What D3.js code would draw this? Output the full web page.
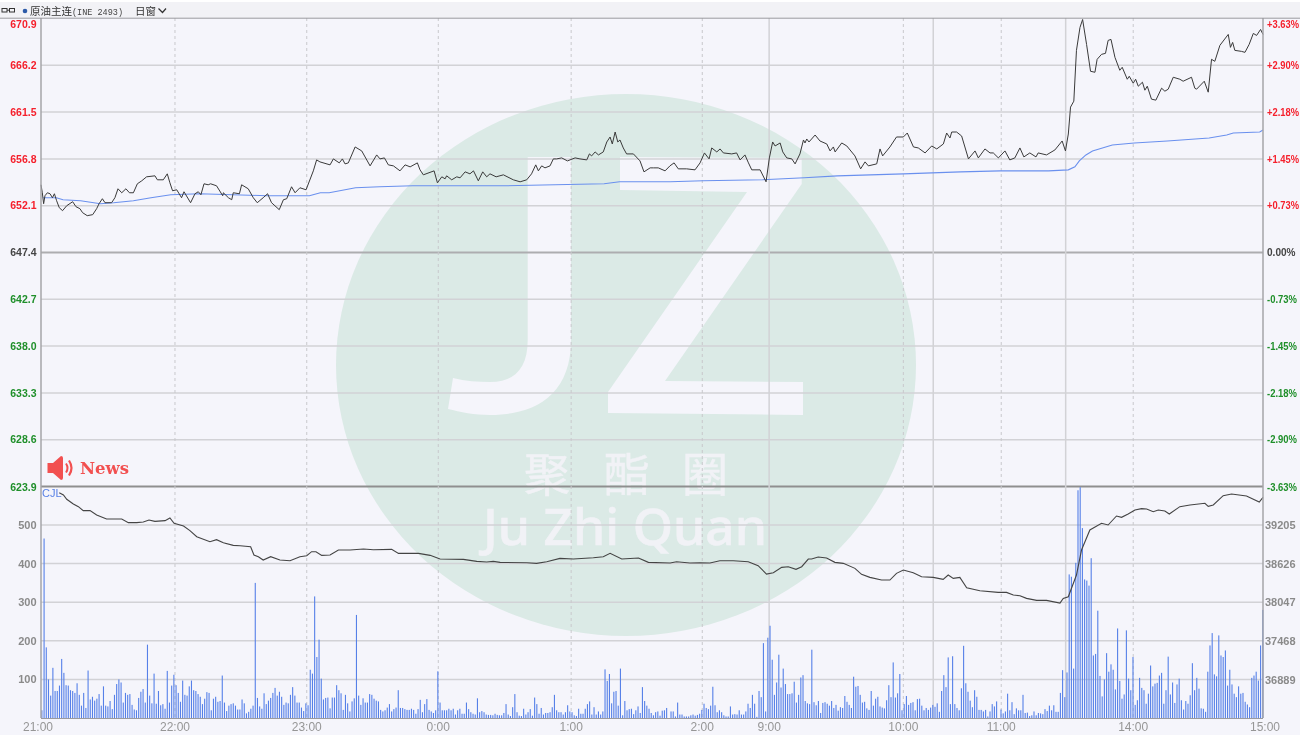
<!DOCTYPE html>
<html><head><meta charset="utf-8">
<script src="https://cdnjs.cloudflare.com/ajax/libs/d3/7.8.5/d3.min.js"></script>
<style>html,body{margin:0;padding:0;background:#f5f5fb;overflow:hidden}svg{display:block;filter:blur(0.35px)}</style>
</head><body><svg id="c" width="1300" height="735"></svg>
<script>
const priceTicks=[670.9,666.2,661.5,656.8,652.1,647.4,642.7,638.0,633.3,628.6,623.9];
const pctTicks=["+3.63%","+2.90%","+2.18%","+1.45%","+0.73%","0.00%","-0.73%","-1.45%","-2.18%","-2.90%","-3.63%"];
const volTicks=[100,200,300,400,500];
const oiTicks=[36889,37468,38047,38626,39205];
const timeLabels=["21:00","22:00","23:00","0:00","1:00","2:00","9:00","10:00","11:00","14:00","15:00"];
const timeMinutes=[0,60.9,120.8,180.6,241,300.6,331,392,436.5,496.5,555.5];
const dashedMinutes=[60.9,120.8,180.6,241,300.6,392,436.5,496.5];
const solidMinutes=[331,405.6,465.8];
const pricePts=[[0,654.2],[.6,653.4],[1.2,652.3],[1.8,653.1],[2.9,653.4],[4.1,653.3],[5.2,652.9],[6.1,653.3],[7.1,652.6],[8.3,651.9],[9.8,651.6],[11.7,652.1],[14.4,652.5],[15.9,652.0],[17.7,651.8],[18.9,651.4],[21,651.1],[23.5,651.2],[25.3,651.8],[26.4,652.3],[27.9,652.8],[29.1,652.4],[32.1,652.4],[33.6,652.9],[35,653.8],[36.7,653.4],[38.6,653.8],[40.2,653.4],[42,653.4],[43.8,654.3],[45.8,654.6],[48,655.0],[51.8,655.1],[52.9,654.7],[55.6,654.7],[57.4,655.3],[58.6,654.4],[59.8,653.6],[61.7,653.7],[63.9,652.9],[65,653.5],[68,652.4],[70,653.3],[71.5,653.5],[72.7,653.2],[74.1,654.3],[76,654.2],[77.1,654.3],[79.8,654.1],[82.6,653.1],[82.9,653.4],[85.2,652.9],[86.7,652.7],[87.4,653.4],[90.2,653.3],[91.2,654.2],[94.2,653.8],[96.5,652.9],[98.3,652.4],[101,652.9],[103,653.3],[104.8,652.4],[108.3,651.7],[110.2,652.7],[111.7,652.8],[113.9,654.0],[115.5,653.4],[117.7,653.9],[120.5,653.7],[123.8,655.6],[125.3,656.7],[126.8,656.5],
[131.4,656.2],[132.9,656.8],[135.6,656.4],[137,656.8],[138.2,656.3],[139.7,656.4],[142.8,658.0],[145.8,657.6],[149.6,656.1],[152.6,657.2],[154.1,656.8],[156.1,656.9],[157.9,656.2],[160.2,656.1],[163.2,655.6],[165.5,656.2],[167.8,656.0],[171.1,656.4],[172.3,655.7],[173.8,655.2],[178.7,655.6],[180.2,654.4],[182.2,655.0],[183.7,654.8],[184.4,655.1],[186.7,654.7],[189,655.0],[190.5,654.9],[192.8,655.5],[195,655.3],[196.6,655.6],[198.8,654.6],[200.8,655.5],[202.6,655.0],[204.1,655.3],[206.9,655.0],[210.2,655.2],[214.7,654.7],[217.8,654.5],[220.8,654.7],[223,655.3],[224.9,656.2],[226.1,655.6],[227.6,656.1],[229.1,655.9],[231.4,656.1],[232.9,656.8],[234.4,656.8],[236.7,656.9],[239.3,656.6],[242.8,656.9],[245,656.8],[248.1,656.7],[249.3,657.3],[250.3,657.1],[251.9,657.5],[253.4,657.2],[255.6,657.5],[257.2,658.5],[258.7,659.0],[259.7,658.3],[261,659.5],[262.2,658.5],[263.2,658.7],[264.7,657.9],[266.2,657.3],[269.3,657.3],[272.3,656.6],[274.1,655.5],[276.9,655.9],[278.4,655.9],[280.6,655.9],[283.7,655.6],
[285.9,656.1],[287.8,656.4],[289.7,655.8],[293.5,655.8],[297.3,655.7],[299.6,656.4],[301.6,657.4],[303.7,656.8],[304.9,657.9],[307.2,657.5],[308.7,657.8],[310.2,657.4],[314,657.3],[316.2,657.4],[317.8,656.7],[320,657.2],[321.6,656.4],[323.1,655.7],[326.9,655.7],[329.6,654.5],[331.1,656.9],[332.6,658.5],[333.7,658.1],[336,658.4],[337.2,657.5],[339,656.9],[341.3,656.8],[342.8,656.3],[345,657.3],[346.6,658.7],[347.3,658.4],[348.1,658.8],[349.1,658.5],[351.9,659.2],[354.1,658.6],[357.2,658.3],[358.7,657.6],[360.2,658.0],[361,657.5],[364,658.4],[366.3,658.1],[370,657.1],[372.6,655.8],[374.6,656.5],[376.1,656.1],[379.9,656.3],[381.4,657.8],[382.6,657.1],[385.9,658.0],[388.9,659.0],[392,659.0],[393.8,659.4],[396.6,658.0],[398.8,657.9],[401.9,657.4],[404.9,658.1],[407.2,657.8],[410.2,658.3],[411.7,659.4],[413.2,658.9],[414,659.5],[416.2,659.5],[418.5,659.1],[421.6,656.8],[424.6,657.6],[426.1,656.9],[429.1,657.8],[431.4,657.4],[432.9,657.4],[435.2,656.9],
[438.2,657.6],[440.4,656.7],[442.7,656.9],[445,657.9],[446.8,657.0],[449.5,657.4],[452.3,657.0],[453.3,657.4],[457.1,657.2],[460.9,657.7],[464.2,658.6],[465.7,657.6],[467,659.3],[468,662.0],[469.5,662.6],[470.7,667.7],[472.3,670.0],[473.5,670.8],[475.3,668.3],[477.1,665.6],[479.1,665.5],[480.1,666.8],[482.1,667.3],[483.9,667.4],[485.1,668.7],[486.4,668.8],[488.2,667.0],[490.4,665.7],[491.5,666.0],[493.8,664.8],[494.7,665.1],[496.5,664.4],[497.6,664.8],[498.8,664.1],[500.7,664.5],[501.8,663.7],[502.9,664.1],[504.8,662.8],[506.8,662.7],[509.4,663.9],[510.9,663.6],[512.4,663.8],[514.7,665.0],[517.7,664.8],[519.2,664.6],[523,665.0],[524.5,663.9],[525.3,663.8],[528.8,664.6],[530.6,663.5],[532.1,666.8],[533.6,666.6],[535.9,668.2],[539.7,669.3],[540.7,668.0],[541.7,668.5],[542.7,667.7],[545.7,667.6],[547.3,667.5],[549.2,668.3],[551.1,669.4],[552.6,669.2],[554.4,669.8],[555.5,669.3]];
const avgPts=[[1,652.9],[7,652.9],[10,652.7],[18,652.6],[27,652.3],[33,652.4],[42,652.6],[50,652.9],[59,653.2],[72,653.3],[87,653.2],[103,653.1],[122,653.1],[127,653.4],[131,653.4],[143,653.9],[154,654.0],[169,654.1],[210,654.1],[256,654.3],[263,654.5],[286,654.5],[301,654.6],[328,654.7],[347,654.9],[362,655.1],[392,655.3],[418,655.5],[436,655.6],[458,655.6],[467,655.7],[470,656.0],[472,656.6],[475,657.2],[478,657.6],[487,658.2],[497,658.4],[512,658.6],[531,658.9],[539,659.2],[542,659.4],[554,659.5],[555.5,659.7]];
const oiPts=[[8.3,39690],[10.2,39655],[11.7,39590],[14.7,39520],[17,39480],[19.2,39420],[22.3,39420],[25.3,39355],[29.8,39295],[36.7,39295],[39.7,39240],[43.5,39240],[46.5,39250],[49.1,39280],[51.8,39260],[56.4,39270],[58.6,39310],[60.5,39230],[64.8,39190],[67.7,39120],[70.8,39030],[76.8,38955],[79.8,38985],[82.9,38940],[87.4,38900],[90.5,38895],[95.3,38880],[96.8,38755],[98.8,38730],[101,38680],[104.4,38730],[108.6,38680],[113.2,38670],[117.7,38730],[120.8,38745],[123,38805],[125,38805],[127.6,38750],[131.4,38755],[135.2,38830],[140.5,38830],[146.6,38845],[151.1,38835],[159.4,38840],[162.5,38780],[171.6,38780],[176.9,38750],[181.4,38695],[192,38690],[198.1,38660],[202.6,38650],[205.6,38660],[208.7,38645],[220.8,38640],[225.3,38630],[229.9,38655],[235.9,38705],[242,38695],[251.1,38715],[255.6,38730],[258.7,38780],[264,38695],[271.6,38710],[276.1,38645],[286,38635],[288.9,38655],[295,38635],[299.5,38640],[304.1,38635],[308.6,38670],[314.7,38670],[321.5,38655],[326,38595],[329.8,38470],[332.9,38490],[336.7,38570],[339.7,38580],[343.2,38540],[345.8,38580],[348.8,38695],[350.3,38695],[353.3,38725],[357.1,38710],[360.9,38645],[364.7,38630],[370,38555],[373,38465],[376.8,38420],[382.1,38380],[385.9,38380],[388.9,38480],[392,38530],[396.5,38490],[400.3,38430],[405.6,38420],[410.1,38390],[412.4,38455],[414.7,38405],[417.7,38420],[420.8,38265],[426.8,38220],[435.1,38195],[438.9,38195],[442,38155],[445,38145],[448,38105],[452.6,38075],[457.1,38075],[463.2,38035],[464.7,38105],[467,38130],[470.7,38455],[473,38830],[476.8,39130],[482.1,39230],[485.1,39205],[488.9,39340],[491.2,39320],[494.2,39370],[497.3,39430],[500.3,39450],[502.6,39445],[505.6,39405],[507.9,39430],[510.9,39415],[512.9,39370],[517.7,39480],[522.3,39505],[529.1,39530],[530.6,39485],[532.9,39505],[537.4,39645],[541.2,39670],[548,39640],[553.8,39550],[555.5,39620]];
const volNightA=[20,465,183,100,58,130,70,70,84,153,117,85,84,72,70,65,90,60,32,65,26,123,48,55,45,50,62,32,82,32,30,44,23,60,88,100,92,40,65,60,62,34,22,20,52,68,75,40,190,58,38,115,37,70,33,36,24,122,40,84,112,85,65,42,97,60,58,82,97,72,70,62,55,36,50,67,65,20,50,55,42,44,110,40,18,32,36,38,32,22,22,48,38,12,16,24,32,350,52,30,24,64,36,45,52,65,78,58,68,55,34,40,38,60,80,58,40,40,27,18,38,33,125,115,315,158,203,102,48,52,53,25];
const volNightB=[53,53,85,72,64,21,60,38,17,43,51,267,58,34,51,40,40,62,60,50,45,43,21,17,20,27,36,17,23,27,72,26,26,23,21,21,24,21,11,23,47,15,36,49,21,17,13,20,121,40,20,20,20,24,20,24,9,20,24,11,11,40,23,15,11,9,51,15,18,15,9,8,8,7,11,8,7,7,13,36,9,5,28,62,15,6,5,24,9,15,23,6,53,36,11,26,9,13,13,15,28,60,20,15,15,9,15,33,17,15,7,5,24,11,11,24,36,43,9,28,9,17,9,17,126,96,114,38,68,70,32,128,7,44,20,23,24,10,20,30,13,80,44,32,24,13,7,15,17,6,19,20,26];
const volMorning=[17,17,4,40,9,9,4,4,4,7,9,6,8,11,21,37,26,23,32,81,33,15,20,15,7,4,4,30,9,10,9,20,9,9,17,37,26,60,37,3,70,54,194,17,208,239,151,60,92,164,79,128,88,62,62,64,94,40,60,105,111,44,38,36,177,41,33,44,13,39,41,37,32,44,26,34,19,28,26,57,42,34,26,107,81,83,60,40,42,25,21,70,32,50,55,30,27,25,46,85,54,144,53,64,114,20,36,57,34,39,41,20,49,50,32,20,26,21,27,34,29,38,16,70,111,80,157,36,160,36,26,20,77,187,90,68,45,28,72,55,21,21,17,21,4,17,36,30,43];
const volAfternoon=[22,12,17,63,20,41,10,25,20,20,60,13,14,5,7,17,7,13,12,10,23,18,32,20,33,16,16,65,124,54,118,372,366,128,402,590,598,492,359,356,343,414,162,166,278,109,56,100,168,120,139,125,74,232,96,50,61,227,102,72,158,34,46,104,78,72,37,63,136,82,89,91,110,117,37,72,159,61,92,39,87,102,46,22,44,37,59,142,72,104,76,25,24,16,120,188,220,113,108,214,162,158,175,84,125,87,63,54,82,63,65,42,35,28,104,110,120,97,188,280];

const svg=d3.select("#c");
const L=41,R=1263;
const x=d3.scaleLinear().domain([0,555.5]).range([L,R]);
const yP=d3.scaleLinear().domain([623.9,670.9]).range([486.5,18.5]);
const yV=d3.scaleLinear().domain([0,500]).range([718,525]);
const yO=d3.scaleLinear().domain([36889,39205]).range([679.5,525]);
const SANS="'Liberation Sans',Arial,sans-serif", CJK="'Noto Sans CJK SC',sans-serif";

svg.append("rect").attr("width",1300).attr("height",735).attr("fill","#f5f5fb");
// header
svg.append("rect").attr("width",1300).attr("height",18).attr("fill","#f2f2f6");
svg.append("rect").attr("width",1300).attr("height",2).attr("fill","#ffffff");
const h=svg.append("g");
[2,9.5].forEach(px=>h.append("rect").attr("x",px).attr("y",8.5).attr("width",5).attr("height",3.5).attr("fill","none").attr("stroke","#333").attr("stroke-width",1));
h.append("line").attr("x1",7).attr("x2",9.5).attr("y1",10.2).attr("y2",10.2).attr("stroke","#333");
h.append("circle").attr("cx",25).attr("cy",11).attr("r",2.3).attr("fill","#2c5aa8");
h.append("text").attr("x",30).attr("y",15).attr("font-family",CJK).attr("font-size",10.5).attr("fill","#333").text("原油主连");
h.append("text").attr("x",72).attr("y",14.5).attr("font-family","'Liberation Mono',monospace").attr("font-size",8.5).attr("fill","#444").text("(INE 2493)");
h.append("text").attr("x",135).attr("y",15).attr("font-family",CJK).attr("font-size",10.5).attr("fill","#333").text("日窗");
h.append("path").attr("d","M158.5,8.5 L162.5,12.5 L166,8.5").attr("fill","none").attr("stroke","#333").attr("stroke-width",1.2);

// watermark
const wm=svg.append("g");
wm.append("ellipse").attr("cx",626).attr("cy",365).attr("rx",290).attr("ry",271).attr("fill","#dbeae6");
const bg="#f5f5fb";
wm.append("path").attr("fill",bg).attr("d","M527.7,157 L571,157 L571,340 C571,395 535,415 490,415 C475,415 460,412 448,409 L453,378 C465,381 478,382 490,382 C515,382 527.7,368 527.7,340 Z");
wm.append("path").attr("fill",bg).attr("d","M620,157 L801.7,158 L801.7,184 L665,381 L803,382 L803,415 L608,413 L608,392 L747,192 L620,190 Z");
wm.selectAll("text.cn").data(["聚","酯","圈"]).join("text").attr("class","cn")
 .attr("x",(d,i)=>[547,627,705][i]).attr("y",491).attr("text-anchor","middle")
 .attr("font-family",CJK).attr("font-size",46).attr("fill","#f1f2f6").attr("stroke","#f1f2f6").attr("stroke-width",.5).text(d=>d);
wm.append("text").attr("x",625).attr("y",545).attr("text-anchor","middle").attr("font-family","'Noto Sans',sans-serif")
 .attr("font-size",51.5).attr("font-weight",500).attr("fill","#f1f2f6").attr("stroke","#f1f2f6").attr("stroke-width",.6).text("Ju Zhi Quan");

// grid
const grid=svg.append("g");
priceTicks.forEach((v,i)=>{
  if(i===0) return;
  const mid=v===647.4, last=i===priceTicks.length-1;
  grid.append("line").attr("x1",L).attr("x2",R).attr("y1",yP(v)).attr("y2",yP(v))
    .attr("stroke",last?"#8f8f8f":mid?"#adadb0":"#d2d2d6").attr("stroke-width",last||mid?2:1.5);
});
volTicks.forEach(v=>grid.append("line").attr("x1",L).attr("x2",R).attr("y1",yV(v)).attr("y2",yV(v)).attr("stroke","#d2d2d6").attr("stroke-width",1.5));
dashedMinutes.forEach(m=>grid.append("line").attr("x1",x(m)).attr("x2",x(m)).attr("y1",18).attr("y2",718).attr("stroke","#c8c8cc").attr("stroke-width",1).attr("stroke-dasharray","3,3"));
solidMinutes.forEach(m=>grid.append("line").attr("x1",x(m)).attr("x2",x(m)).attr("y1",18).attr("y2",718).attr("stroke","#d2d2d6").attr("stroke-width",1.5));

// volume bars
const volAll=[[0,volNightA],[132,volNightB],[286,volMorning],[436,volAfternoon]]
  .flatMap(([s,a])=>a.map((v,i)=>({m:s+i+.4,v})));
svg.append("g").selectAll("rect").data(volAll).join("rect")
  .attr("x",d=>x(d.m)-.55).attr("width",1.1).attr("y",d=>yV(d.v)).attr("height",d=>yV(0)-yV(d.v)).attr("fill","#5680e8");

// lines
const ln=(sx,sy)=>d3.line().x(d=>sx(d[0])).y(d=>sy(d[1]));
svg.append("path").attr("d",ln(x,yP)(avgPts)).attr("fill","none").attr("stroke","#6a90ee").attr("stroke-width",1.1);
svg.append("path").attr("d",ln(x,yP)(pricePts)).attr("fill","none").attr("stroke","#3a3a3a").attr("stroke-width",1);
svg.append("path").attr("d",ln(x,yO)(oiPts)).attr("fill","none").attr("stroke","#444").attr("stroke-width",1.1);

// frame
const fr=svg.append("g").attr("fill","none");
fr.append("line").attr("x1",L).attr("x2",L).attr("y1",18).attr("y2",718).attr("stroke","#a5a5a8").attr("stroke-width",1.5);
fr.append("line").attr("x1",R).attr("x2",R).attr("y1",18).attr("y2",718).attr("stroke","#a5a5a8").attr("stroke-width",1.5);
fr.append("line").attr("x1",0).attr("x2",1300).attr("y1",18.2).attr("y2",18.2).attr("stroke","#9a9a9e").attr("stroke-width",1);
fr.append("line").attr("x1",L).attr("x2",R).attr("y1",718.5).attr("y2",718.5).attr("stroke","#9a9a9e").attr("stroke-width",1);

// labels
const lab=svg.append("g").attr("font-family",SANS).attr("font-weight","bold").attr("font-size",10.5);
const RED="#f5202c",GRN="#1f8f2a",DK="#444";
const labY=v=>v===670.9?28:yP(v)+(v===623.9?4:3.7);
priceTicks.forEach((v,i)=>{
  const c=i<5?RED:i===5?DK:GRN;
  lab.append("text").attr("x",36.5).attr("y",labY(v)).attr("text-anchor","end").attr("fill",c).text(v.toFixed(1));
  lab.append("text").attr("x",1267).attr("y",labY(v)).attr("fill",c)
    .attr("textLength",i<5?32:i===5?28.5:30).attr("lengthAdjust","spacingAndGlyphs").text(pctTicks[i]);
});
volTicks.forEach(v=>lab.append("text").attr("x",36.5).attr("y",yV(v)+4).attr("text-anchor","end").attr("fill","#8a8a8a").attr("font-size",11).text(v));
oiTicks.forEach(v=>lab.append("text").attr("x",1265).attr("y",yO(v)+4).attr("fill","#8a8a8a").attr("font-size",11).text(v));
timeLabels.forEach((t,i)=>svg.append("text").attr("x",x(timeMinutes[i])+(i===0?-3:i===timeLabels.length-1?2:0)).attr("y",731)
  .attr("text-anchor","middle").attr("font-family",SANS).attr("font-size",12).attr("fill","#969696").text(t));
svg.append("text").attr("x",42).attr("y",497).attr("font-family",SANS).attr("font-size",11).attr("fill","#5a82e6").text("CJL");

// news badge
const n=svg.append("g").attr("fill","#f25050");
n.append("path").attr("d","M47.5,463 L53,463 L61,456 Q63,456 63,458 L63,478 Q63,480 61,480 L53,473 L47.5,473 Z");
n.append("path").attr("d","M66,463.5 Q69,468 66,472.5").attr("fill","none").attr("stroke","#f25050").attr("stroke-width",2);
n.append("path").attr("d","M69,460.5 Q74,468 69,475.5").attr("fill","none").attr("stroke","#f25050").attr("stroke-width",2.2);
n.append("text").attr("x",80).attr("y",474).attr("font-family","'DejaVu Serif','Liberation Serif',serif").attr("font-weight","bold").attr("font-size",16.5).text("News");
</script></body></html>
